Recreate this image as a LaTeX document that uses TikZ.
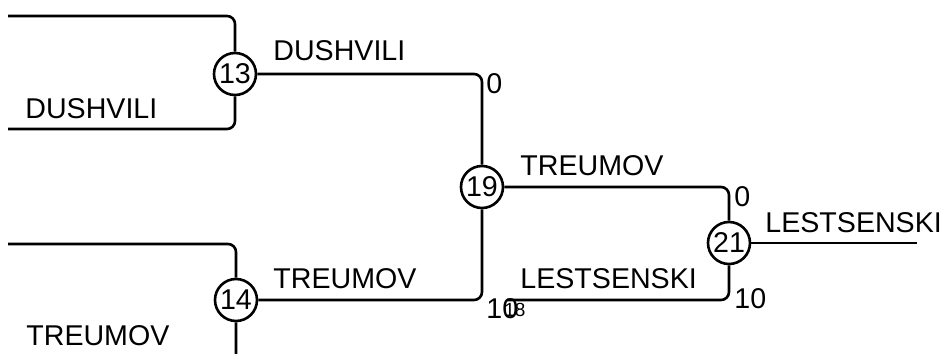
\documentclass[tikz,border=0pt]{standalone}
\usepackage{fontspec}
\setmainfont{Liberation Sans}
\usetikzlibrary{positioning}
\tikzset{
  seed/.style={circle,draw,line width=1.3pt,inner sep=0pt,minimum size=21pt,
    font=\fontsize{14.3}{16}\selectfont},
  player/.style={anchor=base west,inner sep=0pt,font=\fontsize{14.3}{16}\selectfont},
  score/.style={anchor=base west,inner sep=0pt,font=\fontsize{14.3}{16}\selectfont},
  tiny/.style={anchor=base west,inner sep=0pt,font=\fontsize{9.5}{11}\selectfont},
  wire/.style={line width=1.3pt,rounded corners=4pt}
}
\begin{document}
\begin{tikzpicture}[x=0.5pt,y=-0.5pt]
  \useasboundingbox (0,0) rectangle (944,354);
  \clip (0,0) rectangle (944,354);
  % matches
  \node[seed] (13) at (235,74) {13};
  \node[seed] (14) at (236,300) {14};
  \node[seed] (19) at (482,187) {19};
  \node[seed] (21) at (729,243) {21};
  % free ends
  \coordinate (a1) at (8,16);
  \coordinate (a2) at (8,129);
  \coordinate (b1) at (8,244);
  \coordinate (b2) at (8,372);
  \coordinate (c1) at (507,300);
  \coordinate (win) at (917,243);
  \begin{scope}[wire]
    \draw (a1) -| (13.north);
    \draw (13.south) |- (a2);
    \draw (b1) -| (14.north);
    \draw (14.south) |- (b2);
    \draw (13.east) -| (19.north);
    \draw (14.east) -| (19.south);
    \draw (19.east) -| (21.north);
    \draw (21.south) |- (c1);
    \draw (21.east) -- (win);
  \end{scope}
  % names
  \node[player] (p1) at (25,118) {DUSHVILI};
  \node[player] (p2) at (26,345) {TREUMOV};
  \node[player] (p3) at (273,60) {DUSHVILI};
  \node[player] (p4) at (273,288) {TREUMOV};
  \node[player] (p5) at (520,175) {TREUMOV};
  \node[player] (p6) at (520,288) {LESTSENSKI};
  \node[player] (p7) at (765,232) {LESTSENSKI};
  % scores
  \node[score] (s1) at (486,93) {0};
  \node[score] (s2) at (486,318) {10};
  \node[tiny] (s3) at (504,316) {18};
  \node[score] (s4) at (734,206) {0};
  \node[score] (s5) at (734,308) {10};
\end{tikzpicture}
\end{document}
